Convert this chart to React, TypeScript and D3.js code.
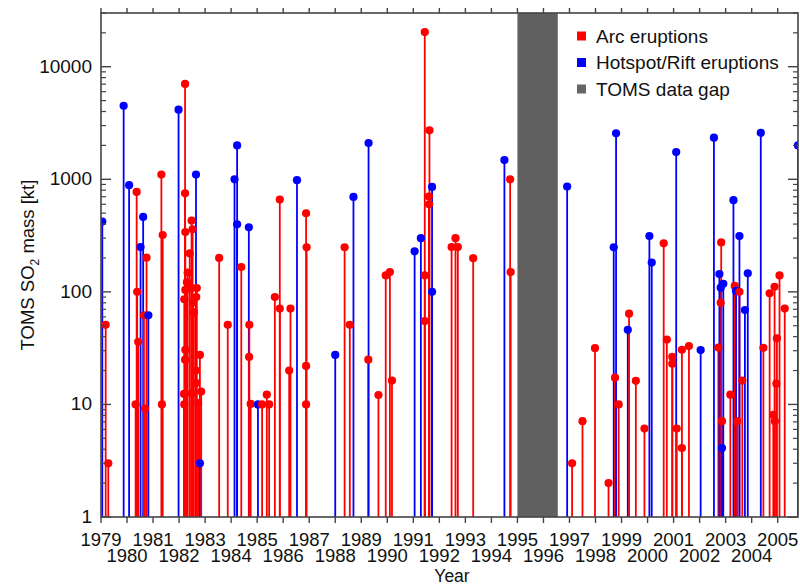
import React from 'react';
import * as d3 from 'd3';

// SO2 mass per eruption (kt)
const arcYears = [
  1979.18, 1979.28, 1980.33, 1980.37, 1980.39, 1980.43, 1980.65, 1980.69, 1980.75,
  1981.32, 1981.37, 1981.34,
  1982.19, 1982.23, 1982.23, 1982.24, 1982.24, 1982.24, 1982.2, 1982.2, 1982.23,
  1982.30, 1982.33, 1982.41, 1982.48, 1982.48, 1982.48, 1982.52, 1982.54, 1982.57,
  1982.65, 1982.66, 1982.68, 1982.66, 1982.73, 1982.80, 1982.85,
  1983.54, 1983.87, 1984.39, 1984.70, 1984.69, 1984.75, 1985.19, 1985.37, 1985.46,
  1985.68, 1985.87, 1985.87, 1986.23, 1986.28, 1986.88, 1986.9, 1986.88, 1986.88,
  1988.36, 1988.56, 1989.27, 1989.66, 1989.94, 1990.10, 1990.18,
  1991.44, 1991.44, 1991.44, 1991.62, 1991.6, 1991.61, 1992.47, 1992.62, 1992.71,
  1993.30, 1994.72, 1994.74,
  1997.10, 1997.50, 1997.98, 1998.50, 1998.75, 1998.89, 1999.29, 1999.55, 1999.88,
  2000.62, 2000.74, 2000.95, 2000.95, 2001.12, 2001.32, 2001.32, 2001.59,
  2002.72, 2002.83, 2002.81, 2002.86, 2003.18, 2003.35, 2003.53, 2003.44, 2003.64,
  2004.45, 2004.69, 2004.88, 2004.97, 2004.95, 2004.83, 2004.89, 2005.07, 2005.27,
];
const arcMass = [
  51, 3, 10, 772, 100, 36, 62, 9.2, 201,
  1100, 320, 10,
  12.4, 7030, 751, 340, 104, 30.6, 86, 10, 25,
  122, 148, 220, 430, 12.5, 108, 360, 80, 66,
  20, 15.5, 108, 90, 10.3, 27.5, 13,
  200, 51, 166, 51, 26.4, 10.1, 10, 12.2, 10,
  90, 661, 71, 20, 71, 499, 249, 22, 10,
  249, 51, 25, 12.1, 140, 150, 16.3,
  20300, 140, 55, 2720, 703, 600, 250, 300, 250,
  199, 1000, 150,
  3, 7.1, 31.6, 2.0, 17.3, 10, 64, 16.2, 6.1,
  270, 37.7, 26.5, 23, 6.1, 4.1, 30.6, 33,
  32, 275, 80, 7.1, 12.2, 113, 100, 7.1, 16.3,
  31.8, 97, 111, 38.7, 15.3, 8.1, 7.1, 140, 71,
];

const hotspotYears = [
  1979.05, 1979.87, 1980.08, 1980.52, 1980.62, 1980.82, 1981.98, 1982.65, 1982.80,
  1984.13, 1984.23, 1984.23, 1984.68, 1985.03, 1986.53, 1988.0, 1988.70, 1989.28,
  1991.05, 1991.29, 1991.72, 1991.72, 1994.5,
  1996.91, 1998.70, 1998.79, 1999.24, 2000.07, 2000.16, 2001.10, 2002.04, 2002.55,
  2002.76, 2002.81, 2002.91, 2002.86, 2003.30, 2003.40, 2003.53, 2003.74, 2003.85,
  2004.35, 2005.78,
];
const hotspotMass = [
  421, 4500, 886, 250, 463, 62, 4150, 1100, 3,
  1000, 2000, 398, 374, 10, 982, 27.5, 697, 2100,
  229, 300, 855, 100, 1480,
  863, 249, 2560, 46, 313, 182, 1743, 30.4, 2340,
  144, 109, 118, 4.1, 652, 102, 313, 69, 146,
  2590, 2000,
];

const gapYears = [1995.0, 1996.55];
const yearTicks = d3.range(1979, 2006);
const massTicks = [1, 10, 100, 1000, 10000];

const W = 800;
const H = 585;
const left = 101;
const right = 798;
const top = 13;
const bottom = 517;

const axisCol = '#444';
const font = 'Liberation Sans, Arial, Helvetica, sans-serif';

export default function App() {
  const x = d3.scaleLinear().domain([1979, 2005.78]).range([left, right]);
  const y = d3.scaleLog().domain([1, 30000]).range([bottom, top]);

  const events = [
    ...arcYears.map((yr, i) => ({ yr, v: arcMass[i], c: '#ff0000' })),
    ...hotspotYears.map((yr, i) => ({ yr, v: hotspotMass[i], c: '#0000ff' })),
  ].sort((a, b) => a.yr - b.yr);

  const minor: number[] = [];
  for (let d = 1; d <= 10000; d *= 10) {
    for (let k = 2; k <= 9; k++) if (d * k <= 30000) minor.push(d * k);
  }

  return (
    <svg width={W} height={H} style={{ position: 'absolute', left: 0, top: 0, background: '#fff' }}
      fontFamily={font}>
      <defs>
        <clipPath id="plot">
          <rect x={left} y={top} width={right - left} height={bottom - top} />
        </clipPath>
      </defs>

      <rect x={x(gapYears[0])} y={top} width={x(gapYears[1]) - x(gapYears[0])}
        height={bottom - top} fill="#606060" />

      <g clipPath="url(#plot)">
        {events.map((e, i) => (
          <line key={'s' + i} x1={x(e.yr)} x2={x(e.yr)} y1={bottom} y2={y(e.v)}
            stroke={e.c} strokeWidth={1.8} />
        ))}
        {events.map((e, i) => (
          <circle key={'d' + i} cx={x(e.yr)} cy={y(e.v)} r={4.1} fill={e.c} />
        ))}
      </g>

      {/* frame */}
      <rect x={left} y={top} width={right - left} height={bottom - top}
        fill="none" stroke={axisCol} strokeWidth={1.6} />

      {/* x ticks, bottom and top */}
      {yearTicks.map((t) => (
        <g key={t}>
          <line x1={x(t)} x2={x(t)} y1={bottom} y2={bottom + 6} stroke={axisCol} strokeWidth={1.4} />
          <line x1={x(t)} x2={x(t)} y1={top} y2={top - 5} stroke={axisCol} strokeWidth={1.4} />
          <text x={x(t)} y={t % 2 === 1 ? 546 : 562} textAnchor="middle" fontSize={18.5} fill="#111">
            {t}
          </text>
        </g>
      ))}

      {/* y ticks, left and right */}
      {massTicks.map((t) => (
        <g key={t}>
          <line x1={left} x2={left + 10} y1={y(t)} y2={y(t)} stroke={axisCol} strokeWidth={1.4} />
          <line x1={right} x2={right - 10} y1={y(t)} y2={y(t)} stroke={axisCol} strokeWidth={1.4} />
          <text x={92} y={y(t) + 6} textAnchor="end" fontSize={19} fill="#111">{t}</text>
        </g>
      ))}
      {minor.map((t) => (
        <g key={'m' + t}>
          <line x1={left} x2={left + 5} y1={y(t)} y2={y(t)} stroke={axisCol} strokeWidth={1.2} />
          <line x1={right} x2={right - 5} y1={y(t)} y2={y(t)} stroke={axisCol} strokeWidth={1.2} />
        </g>
      ))}

      <text x={452} y={582} textAnchor="middle" fontSize={17.5} fill="#111">Year</text>
      <text transform={`translate(34, ${(top + bottom) / 2}) rotate(-90)`} textAnchor="middle"
        fontSize={18.5} fill="#111">
        TOMS SO<tspan fontSize={12} dy={5}>2</tspan><tspan dy={-5}> mass [kt]</tspan>
      </text>

      {/* legend */}
      {[
        ['Arc eruptions', '#ff0000'],
        ['Hotspot/Rift eruptions', '#0000ff'],
        ['TOMS data gap', '#666666'],
      ].map(([label, col], i) => (
        <g key={label} transform={`translate(577, ${36 + i * 26.5})`}>
          <rect x={0} y={-4.5} width={9} height={9} fill={col} />
          <text x={19} y={6.5} fontSize={19} fill="#111">{label}</text>
        </g>
      ))}
    </svg>
  );
}
